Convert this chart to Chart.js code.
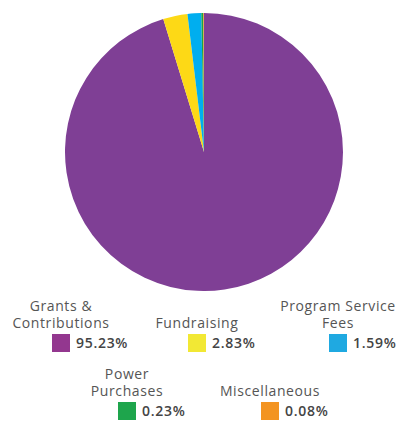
<!DOCTYPE html>
<html>
<head>
<meta charset="utf-8">
<script src="https://cdn.jsdelivr.net/npm/chart.js@4/dist/chart.umd.min.js"></script>
<style>
  html, body { margin: 0; padding: 0; background: #fff; }
  body { width: 409px; height: 435px; position: relative; overflow: hidden; font-family: "Open Sans", sans-serif; }
  #pieWrap { position: absolute; left: 65px; top: 13px; width: 278px; height: 278px; }
  .item { position: absolute; width: 200px; }
  .lbl { height: 34px; display: flex; flex-direction: column; justify-content: flex-end; text-align: center; font-size: 14px; line-height: 17px; color: #555; letter-spacing: 0.6px; }
  .row { position: relative; margin-top: 3px; height: 18px; }
  .sw { position: absolute; top: 0; width: 18px; height: 18px; }
  .val { position: absolute; top: 0; font-size: 14px; line-height: 18px; font-weight: 600; color: #444; white-space: nowrap; letter-spacing: 0.7px; }
</style>
</head>
<body>
<div id="pieWrap"><canvas id="c" width="278" height="278"></canvas></div>
<div id="legend"></div>
<script>
const categories = ["Grants & Contributions", "Fundraising", "Program Service Fees", "Power Purchases", "Miscellaneous"];
const labelLines = [["Grants &", "Contributions"], ["Fundraising"], ["Program Service", "Fees"], ["Power", "Purchases"], ["Miscellaneous"]];
const values = [95.23, 2.83, 1.59, 0.23, 0.08];
const valueLabels = ["95.23%", "2.83%", "1.59%", "0.23%", "0.08%"];
const sliceColors = ["#7f3f95", "#fdd916", "#00aeef", "#1aa14a", "#f7941d"];
const swatchColors = ["#93378f", "#f2e834", "#1fa9e1", "#1ea54c", "#f39421"];

// legend layout (center x, top y of each item)
const legendLayout = [[61, 297], [197, 297], [338, 297], [127, 365], [270, 365]];

new Chart(document.getElementById('c'), {
  type: 'pie',
  data: {
    labels: categories,
    datasets: [{ data: values, backgroundColor: sliceColors, borderWidth: 0 }]
  },
  options: {
    responsive: false,
    animation: false,
    layout: { padding: 0 },
    plugins: { legend: { display: false }, tooltip: { enabled: false } }
  }
});

const legend = document.getElementById('legend');
categories.forEach((cat, i) => {
  const [cx, top] = legendLayout[i];
  const item = document.createElement('div');
  item.className = 'item';
  item.style.left = (cx - 100) + 'px';
  item.style.top = top + 'px';
  const lbl = document.createElement('div');
  lbl.className = 'lbl';
  labelLines[i].forEach(t => { const d = document.createElement('div'); d.textContent = t; lbl.appendChild(d); });
  const row = document.createElement('div');
  row.className = 'row';
  const sw = document.createElement('div');
  sw.className = 'sw';
  sw.style.left = '91px';
  sw.style.background = swatchColors[i];
  const val = document.createElement('div');
  val.className = 'val';
  val.style.left = '115px';
  val.textContent = valueLabels[i];
  row.appendChild(sw); row.appendChild(val);
  item.appendChild(lbl); item.appendChild(row);
  legend.appendChild(item);
});
</script>
</body>
</html>
